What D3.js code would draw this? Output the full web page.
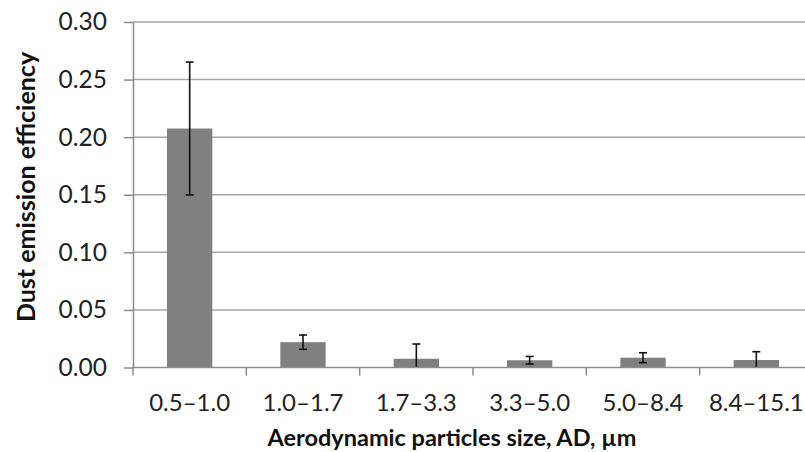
<!DOCTYPE html>
<html>
<head>
<meta charset="utf-8">
<script src="https://cdn.jsdelivr.net/npm/d3@7"></script>
<style>
  body { margin: 0; background: #fff; }
  svg { display: block; font-family: Lato, "Open Sans", sans-serif; }
</style>
</head>
<body>
<div id="chart"></div>
<script>
// data
var categories = ["0.5–1.0", "1.0–1.7", "1.7–3.3", "3.3–5.0", "5.0–8.4", "8.4–15.1"];
var values = [0.2075, 0.022, 0.0076, 0.0063, 0.0085, 0.0065];
var errors = [0.0577, 0.0062, 0.0128, 0.0033, 0.0043, 0.0072];
var yTicks = [0, 0.05, 0.10, 0.15, 0.20, 0.25, 0.30];

var width = 805, height = 452;
var margin = {top: 22, left: 133, bottom: 85};
var plotRight = 813; // plot area runs past the picture edge

var data = categories.map((c, i) => ({cat: c, value: values[i], err: errors[i]}));

var svg = d3.select("#chart").append("svg")
    .attr("width", width)
    .attr("height", height);

var x = d3.scaleBand()
    .domain(categories)
    .range([margin.left, plotRight])
    .paddingInner(0.6)
    .paddingOuter(0.3);

var y = d3.scaleLinear()
    .domain([0, 0.30])
    .range([height - margin.bottom + 0.5, margin.top]);

var cx = d => x(d.cat) + x.bandwidth() / 2;

// gridlines
svg.append("g")
  .selectAll("line")
  .data(yTicks.slice(1))
  .join("line")
    .attr("x1", margin.left)
    .attr("x2", plotRight)
    .attr("y1", d => y(d))
    .attr("y2", d => y(d))
    .attr("stroke", "#a6a6a6")
    .attr("stroke-width", 1.5);

// bars
svg.append("g")
  .selectAll("rect")
  .data(data)
  .join("rect")
    .attr("x", d => x(d.cat))
    .attr("width", x.bandwidth())
    .attr("y", d => y(d.value))
    .attr("height", d => y(0) - y(d.value))
    .attr("fill", "#808080");

// error bars (lower end clipped at the axis, no cap there)
var errG = svg.append("g")
  .selectAll("g")
  .data(data)
  .join("g")
    .attr("stroke", "#111")
    .attr("stroke-width", 1.6);

errG.append("line")
    .attr("x1", cx).attr("x2", cx)
    .attr("y1", d => y(d.value + d.err))
    .attr("y2", d => y(Math.max(0, d.value - d.err)));

errG.append("line")
    .attr("x1", d => cx(d) - 4).attr("x2", d => cx(d) + 4)
    .attr("y1", d => y(d.value + d.err))
    .attr("y2", d => y(d.value + d.err));

errG.filter(d => d.value - d.err > 0).append("line")
    .attr("x1", d => cx(d) - 4).attr("x2", d => cx(d) + 4)
    .attr("y1", d => y(d.value - d.err))
    .attr("y2", d => y(d.value - d.err));

// y axis
var yAxis = svg.append("g")
    .attr("transform", "translate(" + margin.left + ",0)")
    .call(d3.axisLeft(y).tickValues(yTicks).tickFormat(d3.format(".2f"))
      .tickSizeInner(9).tickSizeOuter(0).tickPadding(17));
yAxis.select(".domain").attr("stroke", "#8c8c8c").attr("stroke-width", 1.5);
yAxis.selectAll(".tick line").attr("stroke", "#8c8c8c").attr("stroke-width", 1.5);
yAxis.selectAll("text").attr("font-size", 24.5).attr("fill", "#222")
    .attr("font-family", "Lato, sans-serif");

// x axis, ticks at category boundaries
var xAxis = svg.append("g")
    .attr("transform", "translate(0," + y(0) + ")");
xAxis.append("line")
    .attr("x1", margin.left).attr("x2", plotRight)
    .attr("stroke", "#8c8c8c").attr("stroke-width", 1.5);
xAxis.selectAll(".xtick")
  .data(categories)
  .join("line")
    .attr("class", "xtick")
    .attr("x1", d => x(d) - x.step() * 0.3)
    .attr("x2", d => x(d) - x.step() * 0.3)
    .attr("y1", 0).attr("y2", 8)
    .attr("stroke", "#8c8c8c").attr("stroke-width", 1.5);
xAxis.selectAll(".xlabel")
  .data(categories)
  .join("text")
    .attr("class", "xlabel")
    .attr("x", d => x(d) + x.bandwidth() / 2)
    .attr("y", 43)
    .attr("text-anchor", "middle")
    .attr("font-size", 24)
    .attr("fill", "#222")
    .text(d => d);

// axis titles
svg.append("text")
    .attr("transform", "translate(35,187) rotate(-90)")
    .attr("text-anchor", "middle")
    .attr("font-size", 25)
    .attr("font-weight", "bold")
    .attr("fill", "#111")
    .text("Dust emission efficiency");

svg.append("text")
    .attr("x", 452)
    .attr("y", 446)
    .attr("text-anchor", "middle")
    .attr("font-size", 23.5)
    .attr("font-weight", "bold")
    .attr("fill", "#111")
    .text("Aerodynamic particles size, AD, µm");
</script>
</body>
</html>
